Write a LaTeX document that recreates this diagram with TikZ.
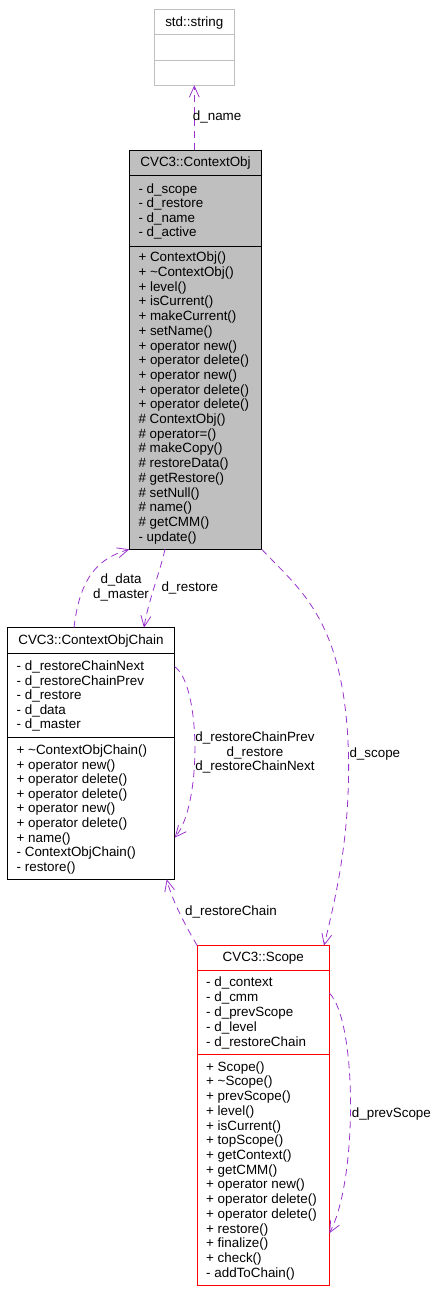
\documentclass[tikz,border=0pt]{standalone}
\usepackage{fontspec}
\setmainfont{Liberation Sans}
\usetikzlibrary{arrows.meta,calc}
\definecolor{depc}{HTML}{9A32CD}
\definecolor{boxgray}{HTML}{BFBFBF}
\newcommand\dxf{\fontsize{13.4}{14.5}\selectfont}
\begin{document}
\begin{tikzpicture}[x=1pt,y=-1pt,
  box/.style={draw, line width=0.9pt, inner sep=0, outer sep=0},
  txt/.style={font=\dxf, inner sep=0, anchor=base west},
  ttl/.style={font=\dxf, inner sep=0, anchor=base},
  lbl/.style={font=\dxf, inner sep=0, align=center},
  dep/.style={draw=depc, line width=0.8pt, dash pattern=on 7pt off 5pt,
    -{Straight Barb[length=11pt,width=10pt]}},
]
\useasboundingbox (0,0) rectangle (437,1292);

% std::string
\node[box, draw=boxgray, minimum width=80pt, minimum height=76pt] (str) at (194.3,47.3) {};
\draw[boxgray, line width=0.9pt] (str.west |- 0,34.3) -- (str.east |- 0,34.3);
\draw[boxgray, line width=0.9pt] (str.west |- 0,60) -- (str.east |- 0,60);
\node[ttl] (strt) at (194.3,26.2) {std::string};

% ContextObj
\node[box, fill=boxgray, minimum width=132.4pt, minimum height=399.3pt] (obj) at (195.5,349.65) {};
\draw[line width=0.9pt] (obj.west |- 0,175) -- (obj.east |- 0,175);
\draw[line width=0.9pt] (obj.west |- 0,246) -- (obj.east |- 0,246);
\node[ttl] (objt) at (195.5,166.5) {CVC3::ContextObj};
\foreach \t [count=\i from 0] in {- d\_scope, - d\_restore, - d\_name, - d\_active}
  \node[txt] (oa\i) at (138.3,{193.5+14.43*\i}) {\t};
\foreach \t [count=\i from 0] in {+ ContextObj(), + \textasciitilde ContextObj(), + level(), + isCurrent(), + makeCurrent(), + setName(), + operator new(), + operator delete(), + operator new(), + operator delete(), + operator delete(), \# ContextObj(), \# operator=(), \# makeCopy(), \# restoreData(), \# getRestore(), \# setNull(), \# name(), \# getCMM(), - update()}
  \node[txt] (om\i) at (138.3,{261.8+14.7*\i}) {\t};

% ContextObjChain
\node[box, fill=white, minimum width=167.4pt, minimum height=251.6pt] (chain) at (91,753.5) {};
\draw[line width=0.9pt] (chain.west |- 0,653.3) -- (chain.east |- 0,653.3);
\draw[line width=0.9pt] (chain.west |- 0,737.3) -- (chain.east |- 0,737.3);
\node[ttl] (chaint) at (91,644.5) {CVC3::ContextObjChain};
\foreach \t [count=\i from 0] in {- d\_restoreChainNext, - d\_restoreChainPrev, - d\_restore, - d\_data, - d\_master}
  \node[txt] (ca\i) at (16.5,{670.5+14.58*\i}) {\t};
\foreach \t [count=\i from 0] in {+ \textasciitilde ContextObjChain(), + operator new(), + operator delete(), + operator delete(), + operator new(), + operator delete(), + name(), - ContextObjChain(), - restore()}
  \node[txt] (cm\i) at (16.5,{754.5+14.59*\i}) {\t};

% Scope
\node[box, draw=red, fill=white, minimum width=132pt, minimum height=339.3pt] (scope) at (263.3,1115.35) {};
\draw[red, line width=0.9pt] (scope.west |- 0,970) -- (scope.east |- 0,970);
\draw[red, line width=0.9pt] (scope.west |- 0,1054) -- (scope.east |- 0,1054);
\node[ttl] (scopet) at (263.3,961.8) {CVC3::Scope};
\foreach \t [count=\i from 0] in {- d\_context, - d\_cmm, - d\_prevScope, - d\_level, - d\_restoreChain}
  \node[txt] (sa\i) at (206,{986.8+14.85*\i}) {\t};
\foreach \t [count=\i from 0] in {+ Scope(), + \textasciitilde Scope(), + prevScope(), + level(), + isCurrent(), + topScope(), + getContext(), + getCMM(), + operator new(), + operator delete(), + operator delete(), + restore(), + finalize(), + check(), - addToChain()}
  \node[txt] (sm\i) at (206,{1071.2+14.71*\i}) {\t};

% connectors
\draw[dep] (obj.north -| str.south) -- (str.south);
\node[txt] (l1) at (192.7,121) {d\_name};

\draw[dep] ([xshift=-17pt]chain.north) .. controls (80,575) and (100,558) .. (obj.south west);
\node[lbl] (l2) at (121,587.5) {d\_data\\d\_master};

\draw[dep] ([xshift=-30.5pt]obj.south) .. controls (160,572) and (148,602) .. ([xshift=53pt]chain.north);
\node[txt] (l3) at (161.3,591) {d\_restore};

\draw[dep] ([yshift=-39pt]chain.north east) .. controls (201,685) and (202,805) .. ([yshift=-210pt]chain.north east);
\node[lbl, font=\fontsize{13.4}{14.2}\selectfont] (l4) at (255,752.5) {d\_restoreChainPrev\\d\_restore\\d\_restoreChainNext};

\draw[dep] (obj.south east) .. controls (300,590) and (345,620) .. (348.5,755) .. controls (350,840) and (335,900) .. ([xshift=60.7pt]scope.north);
\node[txt] (l5) at (349.3,757) {d\_scope};

\draw[dep] (scope.north west) .. controls (185,925) and (172,900) .. ([xshift=75.7pt]chain.south);
\node[txt] (l6) at (185,915) {d\_restoreChain};

\draw[dep] ([yshift=-47.3pt]scope.north east) .. controls (357,1020) and (358,1180) .. ([yshift=-287.6pt]scope.north east);
\node[txt] (l7) at (351.7,1117.5) {d\_prevScope};
\end{tikzpicture}
\end{document}
